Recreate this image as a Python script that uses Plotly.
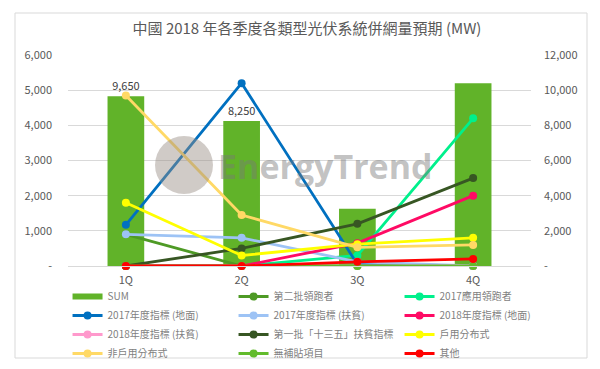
import plotly.graph_objects as go

quarters = ["1Q", "2Q", "3Q", "4Q"]
sum_values = [9650, 8250, 3250, 10400]
sum_labels = ["9,650", "8,250", "", ""]

series_names = [
    "第二批領跑者",
    "2017應用領跑者",
    "2017年度指標 (地面)",
    "2017年度指標 (扶貧)",
    "2018年度指標 (地面)",
    "2018年度指標 (扶貧)",
    "第一批「十三五」扶貧指標",
    "戶用分布式",
    "非戶用分布式",
    "無補貼項目",
    "其他",
]
s_second_leader = [900, 0, 0, 0]
s_2017_app_leader = [0, 0, 300, 4200]
s_2017_ground = [1170, 5200, 50, 0]
s_2017_poverty = [900, 800, 120, 0]
s_2018_ground = [0, 0, 650, 2000]
s_2018_poverty = [0, 0, 0, 0]
s_first_13th = [0, 500, 1200, 2500]
s_household = [1800, 300, 620, 800]
s_non_household = [4850, 1450, 530, 600]
s_no_subsidy = [0, 0, 0, 0]
s_other = [0, 0, 120, 200]
series_values = [s_second_leader, s_2017_app_leader, s_2017_ground, s_2017_poverty,
                 s_2018_ground, s_2018_poverty, s_first_13th, s_household,
                 s_non_household, s_no_subsidy, s_other]
series_colors = ["#4e9a25", "#00f08c", "#0070c0", "#9dc3f5", "#ff0a64", "#ff99cc",
                 "#375623", "#ffff00", "#ffd966", "#62bb2c", "#ff0000"]

left_ticks = [0, 1000, 2000, 3000, 4000, 5000, 6000]
left_ticktext = ["-", "1,000", "2,000", "3,000", "4,000", "5,000", "6,000"]
right_ticks = [0, 2000, 4000, 6000, 8000, 10000, 12000]
right_ticktext = ["-", "2,000", "4,000", "6,000", "8,000", "10,000", "12,000"]

FONT = "Noto Sans CJK TC, Noto Sans, sans-serif"
GREY = "#595959"
BAR_GREEN = "#61b329"

# the page body adds an 8px offset; the figure is sized to fill the rest of the window
OFF = 8
FIG_W, FIG_H = 600 - OFF, 369 - OFF

fig = go.Figure()
fig.add_trace(go.Bar(
    x=quarters, y=sum_values, name="SUM", yaxis="y", showlegend=False,
    marker=dict(color=BAR_GREEN, line=dict(width=0)),
    text=sum_labels, textposition="outside", cliponaxis=False,
    textfont=dict(size=11, color="#404040", family=FONT),
))
# legend-only entry so SUM shows as a thick bar swatch like the original
fig.add_trace(go.Scatter(
    x=quarters, y=[None] * len(quarters), name="SUM", yaxis="y2", mode="lines",
    line=dict(color=BAR_GREEN, width=6), hoverinfo="skip",
))
for name, vals, col in zip(series_names, series_values, series_colors):
    fig.add_trace(go.Scatter(
        x=quarters, y=vals, name=name, yaxis="y2", mode="lines+markers",
        line=dict(color=col, width=2.8), marker=dict(color=col, size=8),
        cliponaxis=False,
    ))

# plot-area edges in screen pixels, converted to figure pixels
W0, W1, H0, H1 = 68 - OFF, 531 - OFF, 55 - OFF, 266 - OFF
pw, ph = W1 - W0, H1 - H0

def px(x):
    return (x - OFF - W0) / pw

def py(y):
    return (H1 - (y - OFF)) / ph

fig.update_layout(
    width=FIG_W, height=FIG_H,
    margin=dict(l=W0, r=FIG_W - W1, t=H0, b=FIG_H - H1, autoexpand=False),
    paper_bgcolor="white", plot_bgcolor="white",
    font=dict(family=FONT, color=GREY),
    title=dict(text="中國 2018 年各季度各類型光伏系統併網量預期 (MW)",
               x=0.505, xanchor="center", y=1 - (29 - OFF) / FIG_H, yanchor="middle",
               font=dict(size=15, color=GREY, family=FONT)),
    bargap=0.683,
    showlegend=True,
    legend=dict(orientation="h", x=-0.001, xanchor="left", y=py(282), yanchor="top",
                entrywidth=121, entrywidthmode="pixels",
                font=dict(size=10, color="#7f7f7f", family=FONT),
                bgcolor="rgba(0,0,0,0)", itemwidth=30),
    xaxis=dict(showgrid=False, showline=True, linecolor="#d9d9d9", linewidth=1,
               ticks="", tickfont=dict(size=11, color=GREY), ticklabelstandoff=4,
               zeroline=False),
    yaxis=dict(side="right", range=[0, 12000], tickvals=right_ticks, ticktext=right_ticktext,
               showgrid=False, zeroline=False, showline=False, ticks="",
               tickfont=dict(size=11, color=GREY), ticklabelstandoff=12),
    yaxis2=dict(side="left", overlaying="y", range=[0, 6000], tickvals=left_ticks,
                ticktext=left_ticktext, showgrid=True, gridcolor="#d9d9d9", gridwidth=1,
                zeroline=False, showline=False, ticks="",
                tickfont=dict(size=11, color=GREY), ticklabelstandoff=15),
    shapes=[
        dict(type="rect", xref="paper", yref="paper",
             x0=px(15), x1=px(587), y0=py(358), y1=py(13),
             line=dict(color="#d9d9d9", width=1), fillcolor="rgba(0,0,0,0)", layer="below"),
        dict(type="circle", xref="paper", yref="paper",
             x0=px(155), x1=px(213), y0=py(194), y1=py(136),
             line=dict(width=0), fillcolor="rgba(150,140,130,0.45)", layer="above"),
    ],
    annotations=[
        dict(text="<b>EnergyTrend</b>", xref="paper", yref="paper",
             x=px(216), y=py(166), xanchor="left", yanchor="middle", showarrow=False,
             font=dict(size=34, color="rgba(120,120,120,0.45)", family="Open Sans, sans-serif")),
    ],
)

fig.write_html("out.html")
